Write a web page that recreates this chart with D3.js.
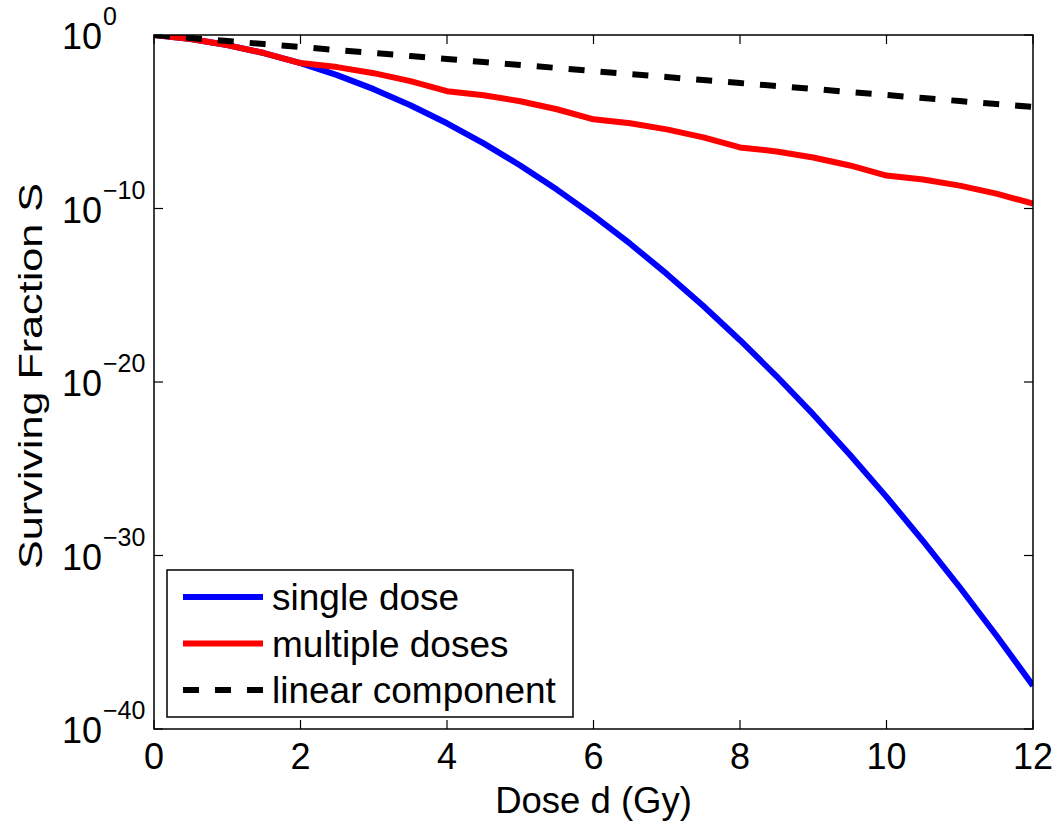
<!DOCTYPE html>
<head>
  <meta charset="utf-8">
  <script src="https://d3js.org/d3.v7.min.js"></script>
  <style>
    body { margin: 0; background: #fff; }
    text { font-family: "Liberation Sans", Arial, sans-serif; fill: #000; }
    .frame { fill: none; stroke: #000; stroke-width: 1.5; }
    .tick { stroke: #000; stroke-width: 1.2; }
    .line { fill: none; stroke-linejoin: round; }
    .line.single { stroke: #0000ff; stroke-width: 6; }
    .line.multiple { stroke: #ff0000; stroke-width: 6; }
    .line.linear { stroke: #000; stroke-width: 6; stroke-dasharray: 16 16; }
  </style>
</head>
<body>
  <svg id="chart" width="1060" height="824"></svg>
  <script>
    // dose (Gy) and log10 of the surviving fraction
    var doses = [0, 0.5, 1, 1.5, 2, 2.5, 3, 3.5, 4, 4.5, 5, 5.5, 6, 6.5, 7, 7.5, 8, 8.5, 9, 9.5, 10, 10.5, 11, 11.5, 12];
    var singleLog = [0, -0.23, -0.58, -1.04, -1.62, -2.31, -3.12, -4.05, -5.09, -6.25, -7.52, -8.91, -10.41, -12.03, -13.77, -15.62, -17.59, -19.67, -21.87, -24.19, -26.62, -29.17, -31.83, -34.61, -37.5];
    var multipleLog = [0, -0.23, -0.58, -1.04, -1.62, -1.85, -2.2, -2.66, -3.24, -3.47, -3.82, -4.28, -4.86, -5.09, -5.44, -5.9, -6.48, -6.71, -7.06, -7.52, -8.1, -8.33, -8.68, -9.14, -9.72];
    var linearLog = [0, -0.17, -0.35, -0.52, -0.69, -0.87, -1.04, -1.21, -1.38, -1.56, -1.73, -1.9, -2.08, -2.25, -2.42, -2.6, -2.77, -2.94, -3.11, -3.29, -3.46, -3.63, -3.81, -3.98, -4.15];

    var xTicks = [0, 2, 4, 6, 8, 10, 12];
    var yTickExps = [0, -10, -20, -30, -40];
    var seriesNames = ['single dose', 'multiple doses', 'linear component'];

    var chart = d3.select('#chart');
    var margin = { top: 35, right: 27, bottom: 95, left: 154 };
    var width = chart.attr('width') - margin.left - margin.right;
    var height = chart.attr('height') - margin.top - margin.bottom;

    var x = d3.scaleLinear().domain([0, 12]).range([0, width]);
    var y = d3.scaleLog().domain([1e-40, 1]).range([height, 0]);

    var g = chart.append('g')
      .attr('transform', 'translate(' + margin.left + ',' + margin.top + ')');

    g.append('clipPath').attr('id', 'clip')
      .append('rect').attr('width', width).attr('height', height);

    var toPoints = (logs) => doses.map((d, i) => ({ d: d, s: Math.pow(10, logs[i]) }));
    var line = d3.line().x((p) => x(p.d)).y((p) => y(p.s));

    var plot = g.append('g').attr('clip-path', 'url(#clip)');
    plot.append('path').datum(toPoints(singleLog)).attr('class', 'line single').attr('d', line);
    plot.append('path').datum(toPoints(multipleLog)).attr('class', 'line multiple').attr('d', line);
    plot.append('path').datum(toPoints(linearLog)).attr('class', 'line linear').attr('d', line);

    // box and inward ticks
    g.append('rect').attr('class', 'frame').attr('width', width).attr('height', height);
    var tl = 9;
    xTicks.forEach((t) => {
      g.append('line').attr('class', 'tick').attr('x1', x(t)).attr('x2', x(t)).attr('y1', height).attr('y2', height - tl);
      g.append('line').attr('class', 'tick').attr('x1', x(t)).attr('x2', x(t)).attr('y1', 0).attr('y2', tl);
      g.append('text')
        .attr('x', x(t)).attr('y', height + 40)
        .attr('text-anchor', 'middle')
        .style('font-size', '36px')
        .text(t);
    });
    yTickExps.forEach((e) => {
      var yy = y(Math.pow(10, e));
      g.append('line').attr('class', 'tick').attr('x1', 0).attr('x2', tl).attr('y1', yy).attr('y2', yy);
      g.append('line').attr('class', 'tick').attr('x1', width).attr('x2', width - tl).attr('y1', yy).attr('y2', yy);
      g.append('text')
        .attr('x', -52).attr('y', yy + 14)
        .attr('text-anchor', 'end')
        .style('font-size', '36px')
        .text('10');
      g.append('text')
        .attr('x', -51).attr('y', yy - 10)
        .attr('text-anchor', 'start')
        .style('font-size', '25px')
        .text(String(e).replace('-', '\u2212'));
    });

    // axis labels
    chart.append('text')
      .attr('x', margin.left + width / 2).attr('y', 813)
      .attr('text-anchor', 'middle')
      .style('font-size', '36.5px')
      .text('Dose d (Gy)');

    chart.append('text')
      .attr('transform', 'translate(42,376) rotate(-90)')
      .attr('text-anchor', 'middle')
      .attr('textLength', 386)
      .attr('lengthAdjust', 'spacingAndGlyphs')
      .style('font-size', '33px')
      .text('Surviving Fraction S');

    // legend
    var legend = chart.append('g').attr('transform', 'translate(167,570)');
    legend.append('rect').attr('class', 'frame').attr('width', 406).attr('height', 147);
    var classes = ['single', 'multiple', 'linear'];
    seriesNames.forEach((name, i) => {
      var ly = 27 + i * 46.5;
      legend.append('line').attr('class', 'line ' + classes[i])
        .attr('x1', 16).attr('x2', 96).attr('y1', ly).attr('y2', ly);
      legend.append('text')
        .attr('x', 105).attr('y', ly + 13)
        .style('font-size', '37px')
        .text(name);
    });
  </script>
</body>
</html>
